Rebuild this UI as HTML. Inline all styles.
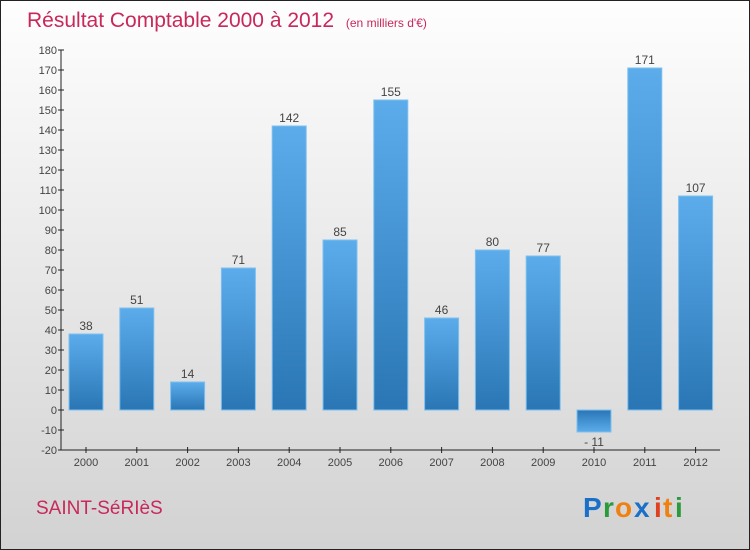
<!DOCTYPE html>
<html><head><meta charset="utf-8"><style>
body{margin:0;}
#c{position:relative;width:750px;height:550px;overflow:hidden;}
</style></head><body>
<div id="c">
<svg width="750" height="550" xmlns="http://www.w3.org/2000/svg" font-family="Liberation Sans, sans-serif">
<defs>
<linearGradient id="bg" x1="0" y1="0" x2="0" y2="1"><stop offset="0" stop-color="#fefefe"/><stop offset="1" stop-color="#d2d2d2"/></linearGradient>
<linearGradient id="bar" x1="0" y1="0" x2="0" y2="1"><stop offset="0" stop-color="#5caceb"/><stop offset="1" stop-color="#2a76b5"/></linearGradient>
<linearGradient id="barn" x1="0" y1="0" x2="0" y2="1"><stop offset="0" stop-color="#2a76b5"/><stop offset="1" stop-color="#5caceb"/></linearGradient>
</defs>
<rect x="0.5" y="0.5" width="749" height="549" fill="url(#bg)" stroke="#222"/>
<text x="27" y="27" font-size="21" fill="#c8285a">Résultat Comptable 2000 à 2012 <tspan font-size="12" dx="6">(en milliers d'€)</tspan></text>
<g id="axes"></g>
<g id="bars"></g>
<text x="36" y="514" font-size="19" fill="#c8285a">SAINT-SéRIèS</text>
<g font-size="28" font-weight="bold">
<text x="583" y="517" fill="#1a6fc8">P</text><text x="603" y="517" fill="#2a9a3a">r</text><text x="615" y="517" fill="#f08010">o</text><text x="634" y="517" fill="#1a6fc8">x</text><text x="654" y="517" fill="#e04020">i</text><text x="663" y="517" fill="#f08010">t</text><text x="675" y="517" fill="#2a9a3a">i</text>
</g>
</svg>
</div>
<script>
const categories=["2000","2001","2002","2003","2004","2005","2006","2007","2008","2009","2010","2011","2012"];
const values=[38,51,14,71,142,85,155,46,80,77,-11,171,107];
const yTicks=[-20,-10,0,10,20,30,40,50,60,70,80,90,100,110,120,130,140,150,160,170,180];
const NS="http://www.w3.org/2000/svg";
const y=v=>410-v*2;
const x=i=>86+i*50.8;
const ax=document.getElementById('axes'),bs=document.getElementById('bars');
function mk(t,a,p){const e=document.createElementNS(NS,t);for(const k in a)e.setAttribute(k,a[k]);p.appendChild(e);return e;}
let l=mk('line',{x1:61,y1:50,x2:61,y2:450,stroke:'#222'},ax);


l=mk('line',{x1:61,y1:450,x2:720,y2:450,stroke:'#222'},ax);


yTicks.forEach(v=>{
 mk('line',{x1:58,y1:y(v),x2:64,y2:y(v),stroke:'#222'},ax);
 const t=mk('text',{x:57,y:y(v)+4,'text-anchor':'end','font-size':11,fill:'#444'},ax);
 t.textContent=v;
 
 
});
categories.forEach((c,i)=>{
 mk('line',{x1:x(i),y1:447,x2:x(i),y2:453,stroke:'#222'},ax);
 const t=mk('text',{x:x(i),y:466,'text-anchor':'middle','font-size':11,fill:'#444'},ax);
 t.textContent=c;
 
 
 const v=values[i];
 const top=Math.min(y(v),y(0)),h=Math.abs(y(v)-y(0));
 const r=mk('rect',{x:x(i)-17,y:top,width:34,height:h,fill:v<0?'url(#barn)':'url(#bar)',stroke:'#7cc0f0','stroke-width':1},bs);
 
 
 const lt=mk('text',{x:x(i),y:v<0?y(v)+14:y(v)-4,'text-anchor':'middle','font-size':12,fill:'#444'},bs);
 lt.textContent=v<0?'- '+Math.abs(v):v;
 
 
});
</script>
</body></html>
